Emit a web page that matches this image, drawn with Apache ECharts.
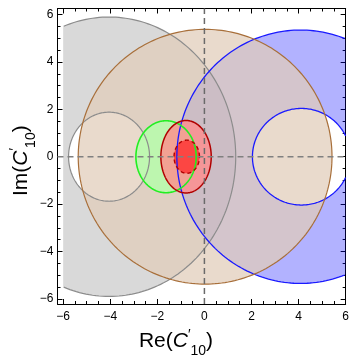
<!DOCTYPE html>
<html>
<head>
<meta charset="utf-8">
<script src="https://cdn.jsdelivr.net/npm/echarts@6/dist/echarts.min.js"></script>
<style>
  html, body { margin: 0; padding: 0; background: #fff; }
  #chart { width: 352px; height: 357px; }
</style>
</head>
<body>
<div id="chart"></div>
<script>
// Axis extents and ticks
const reMin = -6.24, reMax = 6.0;
const imMin = -6.22, imMax = 6.26;
const majorTicks = [-6, -4, -2, 0, 2, 4, 6];
const minorTicks = [-6, -5.5, -5, -4.5, -4, -3.5, -3, -2.5, -2, -1.5, -1, -0.5, 0,
                    0.5, 1, 1.5, 2, 2.5, 3, 3.5, 4, 4.5, 5, 5.5, 6];
// Plotted window of the regions
const clipLo = -6, clipHi = 6;

// Allowed regions in the complex C'10 plane (ellipses, some with an excluded inner ellipse)
const regionName = ['gray', 'blue', 'brown', 'green', 'red', 'core'];
const centerRe   = [-4.05, 4.08, 0.03, -1.63, -0.78, -0.75];
const centerIm   = [0, 0, 0, 0, 0, 0];
const semiRe     = [5.38, 5.25, 5.39, 1.28, 1.07, 0.54];
const semiIm     = [5.90, 5.35, 5.38, 1.52, 1.53, 0.70];
const holeCenter = [-4.05, 4.12, 0, 0, 0, 0];
const holeRe     = [1.72, 2.08, 0, 0, 0, 0];
const holeIm     = [1.88, 2.04, 0, 0, 0, 0];

const fillColor = [
  'rgba(128,128,128,0.30)',
  'rgba(0,0,255,0.30)',
  'rgba(224,204,184,0.72)',
  'rgba(180,255,170,0.80)',
  'rgba(255,140,140,0.80)',
  'rgba(255,40,40,0.75)'
];
const strokeStyle = [
  { stroke: '#8c8c8c', lineWidth: 1.2 },
  { stroke: '#1a1aff', lineWidth: 1.3 },
  { stroke: '#a86f3a', lineWidth: 1.2 },
  { stroke: '#22ee22', lineWidth: 1.6 },
  { stroke: '#b00000', lineWidth: 1.5 },
  { stroke: '#b00000', lineWidth: 1.4, lineDash: [4, 3] }
];

const N = 240;
function ellipse(cx, cy, rx, ry, reverse) {
  const pts = [];
  for (let k = 0; k <= N; k++) {
    const t = (reverse ? -1 : 1) * 2 * Math.PI * k / N;
    pts.push([cx + rx * Math.cos(t), cy + ry * Math.sin(t)]);
  }
  return pts;
}
const clamp = v => Math.max(clipLo, Math.min(clipHi, v));

function rings(i, reverseHole) {
  const r = [ellipse(centerRe[i], centerIm[i], semiRe[i], semiIm[i], false)];
  if (holeRe[i] > 0) r.push(ellipse(holeCenter[i], centerIm[i], holeRe[i], holeIm[i], reverseHole));
  return r;
}

// Filled region: outer ellipse minus inner ellipse (opposite winding), cut at the window
function fillPath(i, api) {
  let d = '';
  rings(i, true).forEach(r => {
    r.forEach((p, k) => {
      const c = api.coord([clamp(p[0]), clamp(p[1])]);
      d += (k === 0 ? 'M' : 'L') + c[0].toFixed(2) + ' ' + c[1].toFixed(2);
    });
    d += 'Z';
  });
  return d;
}

// Boundary curves, only the parts inside the window
function strokePath(i, api) {
  let d = '';
  rings(i, false).forEach(r => {
    let pen = false;
    r.forEach(p => {
      const inside = p[0] >= clipLo && p[0] <= clipHi && p[1] >= clipLo && p[1] <= clipHi;
      if (!inside) { pen = false; return; }
      const c = api.coord(p);
      d += (pen ? 'L' : 'M') + c[0].toFixed(2) + ' ' + c[1].toFixed(2);
      pen = true;
    });
  });
  return d;
}

const regionData = regionName.map((_, i) => [i]);
const fontFamily = '"Liberation Sans", Arial, sans-serif';
const minus = v => String(v).replace('-', '\u2212');

function xAxisDef(position, ticks, len, showLine, showLabel) {
  return {
    type: 'value', min: reMin, max: reMax, position,
    axisLine: { show: showLine, onZero: false, lineStyle: { color: '#000', width: 1 } },
    axisTick: { show: true, inside: true, length: len, customValues: ticks, lineStyle: { color: '#000', width: 1 } },
    axisLabel: { show: showLabel, customValues: majorTicks, formatter: minus, fontSize: 12,
                 color: '#000', margin: 7, fontFamily },
    splitLine: { show: false }
  };
}
function yAxisDef(position, ticks, len, showLine, showLabel) {
  return {
    type: 'value', min: imMin, max: imMax, position,
    axisLine: { show: showLine, onZero: false, lineStyle: { color: '#000', width: 1 } },
    axisTick: { show: true, inside: true, length: len, customValues: ticks, lineStyle: { color: '#000', width: 1 } },
    axisLabel: { show: showLabel, customValues: majorTicks, formatter: minus, fontSize: 12,
                 color: '#000', margin: 4, fontFamily },
    splitLine: { show: false }
  };
}

const chart = echarts.init(document.getElementById('chart'), null, { renderer: 'canvas' });
chart.setOption({
  animation: false,
  backgroundColor: '#fff',
  grid: { left: 57.5, right: 2.5, top: 8.5, bottom: 53, containLabel: false },
  xAxis: [
    xAxisDef('bottom', majorTicks, 5, true, true),
    xAxisDef('bottom', minorTicks, 3, false, false),
    xAxisDef('top', majorTicks, 5, true, false),
    xAxisDef('top', minorTicks, 3, false, false)
  ],
  yAxis: [
    yAxisDef('left', majorTicks, 5, true, true),
    yAxisDef('left', minorTicks, 3, false, false),
    yAxisDef('right', majorTicks, 5, true, false),
    yAxisDef('right', minorTicks, 3, false, false)
  ],
  series: [
    {
      type: 'custom', name: 'fills', z: 2, clip: true,
      data: regionData,
      renderItem: (params, api) => ({
        type: 'path',
        shape: { pathData: fillPath(api.value(0), api) },
        style: { fill: fillColor[api.value(0)], stroke: null }
      })
    },
    {
      type: 'custom', name: 'outlines', z: 3, clip: true,
      data: regionData,
      renderItem: (params, api) => {
        const i = api.value(0);
        return {
          type: 'path',
          shape: { pathData: strokePath(i, api) },
          style: Object.assign({ fill: null }, strokeStyle[i])
        };
      }
    },
    {
      type: 'line', name: 'Re = 0', z: 4, symbol: 'none', silent: true,
      data: [[0, imMin], [0, imMax]],
      lineStyle: { color: '#6a6a6a', width: 1.5, type: [6, 4] }
    },
    {
      type: 'line', name: 'Im = 0', z: 4, symbol: 'none', silent: true,
      data: [[reMin, 0], [reMax, 0]],
      lineStyle: { color: '#808080', width: 1.5, type: [6, 4] }
    }
  ],
  graphic: [
    {
      type: 'text', left: 'center', x: 206, top: 328, z: 10,
      style: {
        text: '{n|Re(}{c|C}{p|\u2032}{s|10}{n|)}',
        rich: {
          n: { fontSize: 21, fontFamily, fill: '#000', lineHeight: 26, verticalAlign: 'middle' },
          c: { fontSize: 21, fontFamily, fontStyle: 'italic', fill: '#000', lineHeight: 26 },
          p: { fontSize: 14, fontFamily, fill: '#000', lineHeight: 26, verticalAlign: 'top' },
          s: { fontSize: 14, fontFamily, fill: '#000', lineHeight: 14, verticalAlign: 'bottom', padding: [0, 0, -4, 0] }
        }
      }
    },
    {
      type: 'text', x: 8, y: 196, rotation: Math.PI / 2, z: 10,
      style: {
        text: '{n|Im(}{c|C}{p|\u2032}{s|10}{n|)}',
        rich: {
          n: { fontSize: 21, fontFamily, fill: '#000', lineHeight: 26 },
          c: { fontSize: 21, fontFamily, fontStyle: 'italic', fill: '#000', lineHeight: 26 },
          p: { fontSize: 14, fontFamily, fill: '#000', lineHeight: 26, verticalAlign: 'top' },
          s: { fontSize: 14, fontFamily, fill: '#000', lineHeight: 14, verticalAlign: 'bottom', padding: [0, 0, -4, 0] }
        }
      }
    }
  ]
});
</script>
</body>
</html>
